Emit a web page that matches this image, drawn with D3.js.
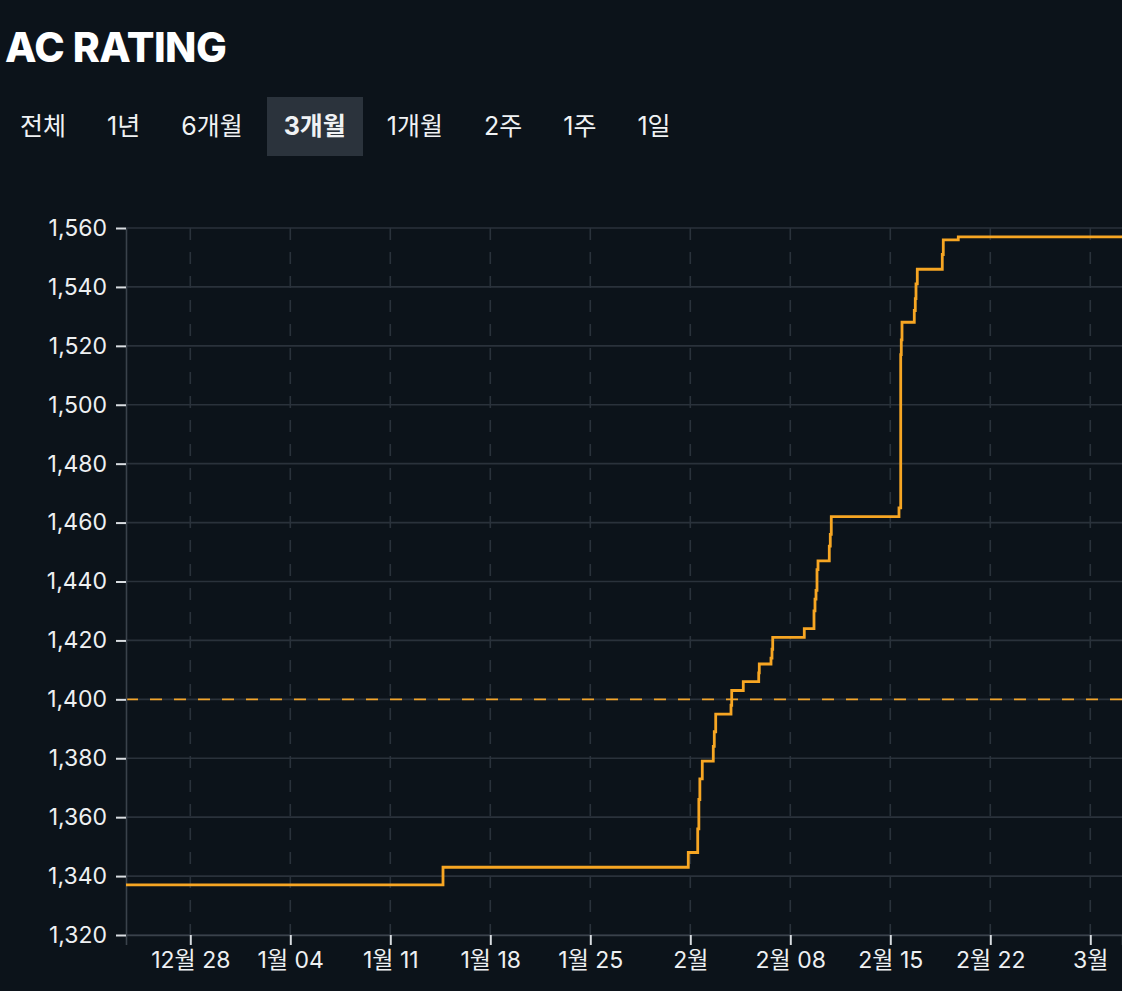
<!DOCTYPE html>
<html lang="ko">
<head>
<meta charset="utf-8">
<title>AC RATING</title>
<script src="https://cdn.jsdelivr.net/npm/d3@7"></script>
<style>
  html, body { margin: 0; padding: 0; background: #0c131a; }
  body { width: 1122px; height: 991px; overflow: hidden; position: relative;
         font-family: Inter, "Noto Sans CJK KR", sans-serif; color: #f0f2f4; }
  #chart { position: absolute; left: 0; top: 0; }
  #ranges { position: absolute; left: 3px; top: 97px; display: flex; gap: 7px; z-index: 2; }
  .range { padding: 0 17px; height: 59px; line-height: 59px; font-size: 25px; color: #f0f2f4; }
  .range.active { background: #2b333c; font-weight: 700; }
</style>
</head>
<body>
<svg id="chart" width="1122" height="991"></svg>
<div id="ranges"></div>
<script>
// ---- data ----
const rangeButtons = ['전체', '1년', '6개월', '3개월', '1개월', '2주', '1주', '1일'];
const activeRange = '3개월';

const xDomain = ['2024-12-23T12:00:00Z', '2025-03-03T05:17:00Z'];
const yDomain = [1320, 1560];
const yTickValues = [1320, 1340, 1360, 1380, 1400, 1420, 1440, 1460, 1480, 1500, 1520, 1540, 1560];
const xTickDates = ['2024-12-28', '2025-01-04', '2025-01-11', '2025-01-18', '2025-01-25',
                    '2025-02-01', '2025-02-08', '2025-02-15', '2025-02-22', '2025-03-01'];
const thresholdRating = 1400;

const stepTimes = [
  '2024-12-23T12:00Z', '2025-01-14T16:34Z', '2025-01-31T20:38Z',
  '2025-02-01T12:29Z', '2025-02-01T14:24Z', '2025-02-01T16:05Z', '2025-02-01T20:10Z',
  '2025-02-02T14:38Z', '2025-02-02T16:19Z', '2025-02-02T18:43Z',
  '2025-02-03T20:24Z', '2025-02-03T21:36Z', '2025-02-04T17:02Z',
  '2025-02-05T18:58Z', '2025-02-05T19:55Z',
  '2025-02-06T15:36Z', '2025-02-06T17:17Z', '2025-02-06T18:29Z',
  '2025-02-08T23:31Z',
  '2025-02-09T15:50Z', '2025-02-09T17:31Z', '2025-02-09T19:12Z', '2025-02-09T20:53Z', '2025-02-09T22:34Z',
  '2025-02-10T17:31Z', '2025-02-10T19:12Z', '2025-02-10T20:53Z',
  '2025-02-15T14:38Z', '2025-02-15T17:31Z', '2025-02-15T18:29Z', '2025-02-15T19:41Z',
  '2025-02-16T16:19Z', '2025-02-16T18:00Z', '2025-02-16T19:12Z', '2025-02-16T21:22Z',
  '2025-02-18T15:22Z', '2025-02-18T17:02Z', '2025-02-19T18:14Z',
  '2025-03-03T05:17Z'
];
const stepRatings = [
  1337, 1343, 1348,
  1356, 1366, 1373, 1379,
  1384, 1389, 1395,
  1398, 1403, 1406,
  1409, 1412,
  1414, 1417, 1421,
  1424,
  1430, 1434, 1437, 1444, 1447,
  1452, 1456, 1462,
  1465, 1517, 1522, 1528,
  1532, 1536, 1541, 1546,
  1551, 1556, 1557,
  1557
];

// ---- header ----
d3.select('#ranges').selectAll('.range').data(rangeButtons).join('div')
  .attr('class', d => d === activeRange ? 'range active' : 'range')
  .text(d => d);

const svg = d3.select('#chart');

svg.append('text')
  .attr('x', 5).attr('y', 62)
  .style('font-family', 'Inter, sans-serif')
  .style('font-size', '41px')
  .style('font-weight', 800)
  .style('letter-spacing', '-0.5px')
  .attr('fill', '#ffffff')
  .text('AC RATING');

// ---- chart ----
const margin = { top: 228, right: 0, bottom: 56, left: 126 };
const W = 1122, H = 991;
const innerW = W - margin.left - margin.right;
const innerH = H - margin.top - margin.bottom;

const g = svg.append('g').attr('transform', `translate(${margin.left},${margin.top})`);

const x = d3.scaleUtc().domain(xDomain.map(d => new Date(d))).range([0, innerW]);
const y = d3.scaleLinear().domain(yDomain).range([innerH, 0]);

const gridColor = '#2a323b';
const tickColor = '#d9dde1';
const labelColor = '#eef0f2';

// horizontal grid
g.append('g').selectAll('line').data(yTickValues).join('line')
  .attr('x1', 0).attr('x2', innerW)
  .attr('y1', d => y(d)).attr('y2', d => y(d))
  .attr('stroke', gridColor).attr('stroke-width', 1.6);

// vertical dashed grid
const xTicks = xTickDates.map(d => new Date(d + 'T00:00:00Z'));
g.append('g').selectAll('line').data(xTicks).join('line')
  .attr('x1', d => x(d)).attr('x2', d => x(d))
  .attr('y1', 0).attr('y2', innerH)
  .attr('stroke', gridColor).attr('stroke-width', 1.6)
  .attr('stroke-dasharray', '12,12');

// threshold line
g.append('line')
  .attr('x1', 0).attr('x2', innerW)
  .attr('y1', y(thresholdRating)).attr('y2', y(thresholdRating))
  .attr('stroke', '#f2a42a').attr('stroke-width', 1.8)
  .attr('stroke-dasharray', '12,12');

// axes
const fmtMonth = d3.utcFormat('%-m월');
const fmtDay = d3.utcFormat('%-m월 %d');
const xAxis = d3.axisBottom(x)
  .tickValues(xTicks)
  .tickFormat(d => d.getUTCDate() === 1 ? fmtMonth(d) : fmtDay(d))
  .tickSize(10).tickSizeOuter(10).tickPadding(7);

const gx = g.append('g').attr('transform', `translate(0,${innerH})`).call(xAxis);

const yAxis = d3.axisLeft(y)
  .tickValues(yTickValues)
  .tickFormat(d3.format(','))
  .tickSize(10).tickSizeOuter(0).tickPadding(9);

const gy = g.append('g').call(yAxis);

[gx, gy].forEach(a => {
  a.select('.domain').attr('stroke', '#3a424b').attr('stroke-width', 1.6);
  a.selectAll('.tick line').attr('stroke', tickColor).attr('stroke-width', 2);
  a.selectAll('.tick text')
    .attr('fill', labelColor)
    .style('font-family', 'Inter, "Noto Sans CJK KR", sans-serif')
    .style('font-size', '23px');
});

// rating step line
const points = stepTimes.map((t, i) => ({ t: new Date(t), v: stepRatings[i] }));
const line = d3.line()
  .x(d => x(d.t))
  .y(d => y(d.v))
  .curve(d3.curveStepAfter);

g.append('path')
  .datum(points)
  .attr('fill', 'none')
  .attr('stroke', '#f7a623')
  .attr('stroke-width', 2.8)
  .attr('stroke-linejoin', 'miter')
  .attr('d', line);
</script>
</body>
</html>
